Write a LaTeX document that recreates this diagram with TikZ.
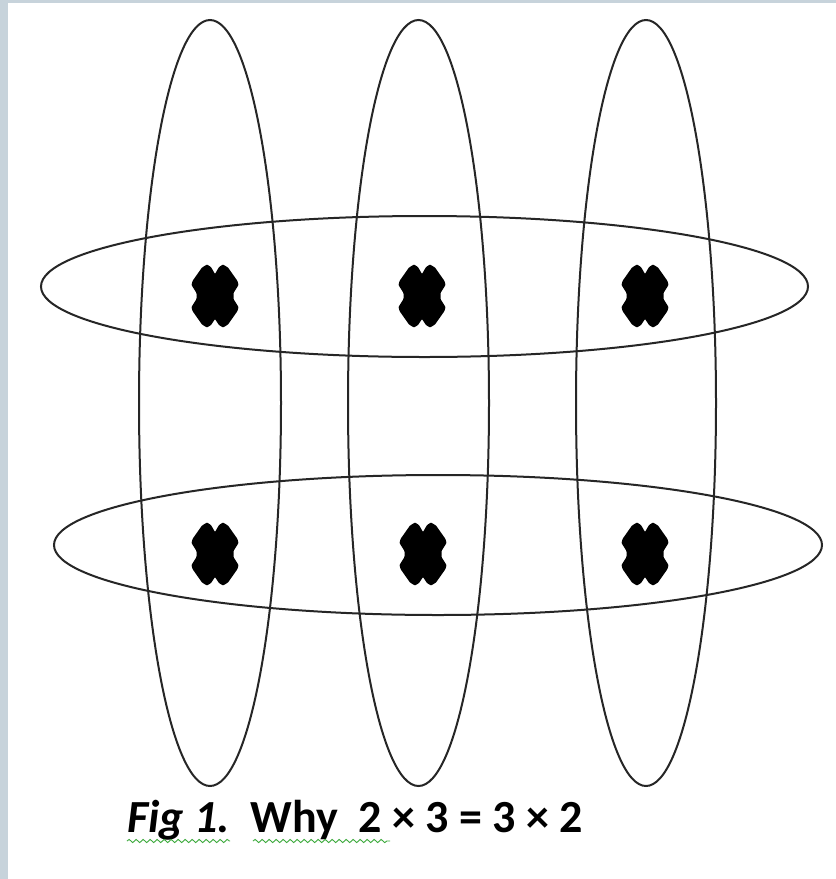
\documentclass[tikz,border=0pt]{standalone}
\usepackage{fontspec}
\setmainfont{Carlito}
\usetikzlibrary{decorations.pathmorphing}
\definecolor{frame}{HTML}{C7D3DB}
\definecolor{squig}{HTML}{3DAA3D}
\tikzset{
  ring/.style={draw=black!85, line width=2pt},
  crossmark/.pic={\fill[black, rounded corners=0.8pt] (0,-22) -- (4,-29) -- (8,-31.5) -- (13,-28.5) -- (22.5,-15) -- (23.5,-11) -- (18.5,-3) -- (18.5,3) -- (23.5,11) -- (22.5,15) -- (13,28.5) -- (8,31.5) -- (4,29) -- (0,23) -- (-4,29) -- (-8,31.5) -- (-13,28.5) -- (-22.5,15) -- (-23.5,11) -- (-18.5,3) -- (-18.5,-3) -- (-23.5,-11) -- (-22.5,-15) -- (-13,-28.5) -- (-8,-31.5) -- (-4,-29) -- cycle;},
  squiggle/.style={draw=squig, line width=0.9pt, decorate, decoration={snake, segment length=7pt, amplitude=1.6pt}},
  caption/.style={inner sep=0pt, anchor=base west, font=\fontsize{46}{52}\selectfont\bfseries}
}
\begin{document}
\begin{tikzpicture}[x=1pt, y=-1pt]
\useasboundingbox (0,0) rectangle (836,879);
\fill[frame] (0,0) rectangle (836,879);
\fill[white] (8,3) rectangle (836,879);
% vertical ellipses
\draw[ring] (210,403) ellipse [x radius=71, y radius=383];
\draw[ring] (418.5,403) ellipse [x radius=70.5, y radius=383];
\draw[ring] (646,403) ellipse [x radius=70, y radius=383];
% horizontal ellipses
\draw[ring] (424.5,286.5) ellipse [x radius=383.5, y radius=70.5];
\draw[ring] (438,545) ellipse [x radius=384, y radius=70];
% crosses
\pic at (215,296) {crossmark};
\pic at (422,296) {crossmark};
\pic at (645,296) {crossmark};
\pic at (215,554) {crossmark};
\pic at (423,554) {crossmark};
\pic at (645,554) {crossmark};
% caption
\node[caption] (cap) at (127,832) {\textit{Fig 1.}\ \ Why\ \ 2 × 3 = 3 × 2};
\coordinate (s1a) at (127,841);
\coordinate (s1b) at (230,841);
\coordinate (s2a) at (253,841);
\coordinate (s2b) at (390,841);
\draw[squiggle] (s1a) -- (s1b);
\draw[squiggle] (s2a) -- (s2b);
\end{tikzpicture}
\end{document}
